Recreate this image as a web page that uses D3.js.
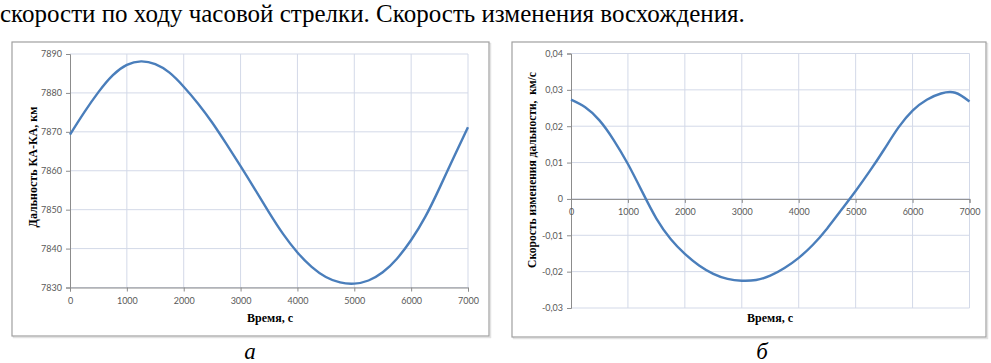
<!DOCTYPE html>
<html><head><meta charset="utf-8">
<script src="https://cdn.jsdelivr.net/npm/d3@7/dist/d3.min.js"></script>
<style>
html,body{margin:0;padding:0;background:#fff;}
svg{display:block;}
</style></head>
<body>
<svg id="c" width="991" height="363"></svg>
<script>
// ---- data ----
const headerText = "скорости по ходу часовой стрелки. Скорость изменения восхождения.";
const time = [0,250,500,750,1000,1250,1500,1750,2000,2250,2500,2750,3000,3250,3500,3750,4000,4250,4500,4750,5000,5250,5500,5750,6000,6250,6500,6750,7000];
const rangeKm = [7869.3,7875.0,7880.2,7884.5,7887.2,7888.1,7887.4,7885.2,7881.6,7877.3,7872.4,7866.9,7861.2,7855.3,7849.3,7843.7,7839.0,7835.3,7832.7,7831.3,7831.0,7831.8,7833.9,7837.4,7842.2,7848.2,7855.6,7863.5,7871.2];
const rangeRate = [0.0273,0.0252,0.0216,0.0162,0.0096,0.0020,-0.0054,-0.0110,-0.0151,-0.0183,-0.0206,-0.0220,-0.0225,-0.0223,-0.0211,-0.0190,-0.0162,-0.0126,-0.0081,-0.0030,0.0022,0.0077,0.0136,0.0196,0.0243,0.0273,0.0290,0.0292,0.0268];
const xTicks = [0,1000,2000,3000,4000,5000,6000,7000];
const leftYTicks = [7830,7840,7850,7860,7870,7880,7890];
const rightYTicks = [-0.03,-0.02,-0.01,0,0.01,0.02,0.03,0.04];
const leftYTitle = "Дальность КА-КА, км";
const rightYTitle = "Скорость изменения дальности,  км/с";
const xTitle = "Время, с";
const captions = ["а","б"];

// ---- drawing ----
const svg = d3.select("#c");
const GRID = "#d3d9e8", AXIS = "#8c8c8c", LINE = "#4a7ebb", TICKTXT = "#595959";
const tickFont = "Lato, 'Open Sans', sans-serif";
const serif = "'Liberation Serif', 'Times New Roman', serif";

svg.append("text").attr("x", 0).attr("y", 22)
  .attr("font-family", serif).attr("font-size", 25).attr("fill", "#000")
  .text(headerText);

function chart(opt) {
  const g = svg.append("g");
  // frame
  g.append("rect").attr("x", opt.box[0] + 1.5).attr("y", opt.box[1] + 1.5)
    .attr("width", opt.box[2] - opt.box[0]).attr("height", opt.box[3] - opt.box[1])
    .attr("fill", "none").attr("stroke", "#e2e2e2").attr("stroke-width", 1.5);
  g.append("rect").attr("x", opt.box[0]).attr("y", opt.box[1])
    .attr("width", opt.box[2] - opt.box[0]).attr("height", opt.box[3] - opt.box[1])
    .attr("fill", "#fff").attr("stroke", "#a0a0a0").attr("stroke-width", 1.2);

  const x = d3.scaleLinear().domain([0, 7000]).range(opt.xr);
  const y = d3.scaleLinear().domain(opt.yd).range(opt.yr);

  // grid
  g.append("g").selectAll("line").data(xTicks.slice(1)).join("line")
    .attr("x1", d => x(d)).attr("x2", d => x(d))
    .attr("y1", opt.yr[0]).attr("y2", opt.yr[1])
    .attr("stroke", GRID).attr("stroke-width", 1);
  g.append("g").selectAll("line").data(opt.yTicks).join("line")
    .attr("x1", opt.xr[0]).attr("x2", opt.xr[1])
    .attr("y1", d => y(d)).attr("y2", d => y(d))
    .attr("stroke", GRID).attr("stroke-width", 1);

  // y axis
  const ya = d3.axisLeft(y).tickValues(opt.yTicks).tickSize(4).tickPadding(4).tickFormat(opt.yFmt);
  const yg = g.append("g").attr("transform", `translate(${opt.xr[0]},0)`).call(ya);
  yg.select(".domain").attr("stroke", AXIS);
  yg.selectAll(".tick line").attr("stroke", AXIS);
  yg.selectAll("text").attr("font-family", tickFont).attr("font-size", 9).attr("fill", TICKTXT);

  // x axis
  const xa = d3.axisBottom(x).tickValues(xTicks).tickSize(4).tickPadding(6).tickFormat(d3.format("d"));
  const xg = g.append("g").attr("transform", `translate(0,${y(opt.xAxisAt)})`).call(xa);
  xg.select(".domain").attr("stroke", AXIS);
  xg.selectAll(".tick line").attr("stroke", AXIS);
  xg.selectAll("text").attr("font-family", tickFont).attr("font-size", 9).attr("fill", TICKTXT);

  // line
  const line = d3.line().x((d, i) => x(time[i])).y(d => y(d)).curve(d3.curveNatural);
  g.append("path").datum(opt.values).attr("d", line)
    .attr("fill", "none").attr("stroke", LINE).attr("stroke-width", 2.4);

  // titles
  g.append("text").attr("x", opt.xTitlePos[0]).attr("y", opt.xTitlePos[1])
    .attr("text-anchor", "middle").attr("font-family", serif).attr("font-weight", "bold")
    .attr("font-size", 12).text(xTitle);
  g.append("text").attr("transform", `translate(${opt.yTitlePos[0]},${opt.yTitlePos[1]}) rotate(-90)`)
    .attr("text-anchor", "middle").attr("font-family", serif).attr("font-weight", "bold")
    .attr("font-size", opt.yTitleSize).attr("xml:space", "preserve").style("white-space", "pre").text(opt.yTitle);
  svg.append("text").attr("x", opt.capPos[0]).attr("y", opt.capPos[1])
    .attr("text-anchor", "middle").attr("font-family", serif).attr("font-style", "italic")
    .attr("font-size", 23).text(opt.caption);
}

chart({
  box: [12, 42, 489, 336],
  xr: [70, 468], yd: [7830, 7890], yr: [287.5, 54],
  yTicks: leftYTicks, yFmt: d3.format("d"), xAxisAt: 7830,
  values: rangeKm,
  xTitlePos: [270, 322], yTitlePos: [37, 167], yTitle: leftYTitle, yTitleSize: 12,
  capPos: [250, 359], caption: captions[0]
});

chart({
  box: [512, 42, 986, 337],
  xr: [571, 969.5], yd: [-0.03, 0.04], yr: [308, 53.5],
  yTicks: rightYTicks,
  yFmt: d => d === 0 ? "0" : (d < 0 ? "-" : "") + Math.abs(d).toFixed(2).replace(".", ","),
  xAxisAt: 0,
  values: rangeRate,
  xTitlePos: [770, 322], yTitlePos: [536, 170], yTitle: rightYTitle, yTitleSize: 11.5,
  capPos: [762, 359], caption: captions[1]
});
</script>
</body></html>
